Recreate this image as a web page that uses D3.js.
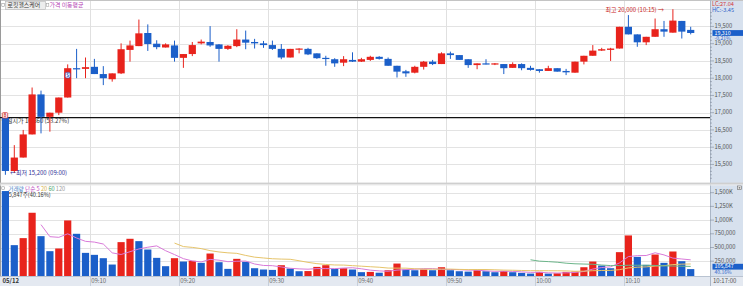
<!DOCTYPE html>
<html><head><meta charset="utf-8">
<script src="https://cdn.jsdelivr.net/npm/d3@7"></script>
<style>
html,body{margin:0;padding:0;background:#fff;overflow:hidden;}
svg{display:block;font-family:"Noto Sans CJK KR","Noto Sans",sans-serif;}
</style></head><body>
<svg id="c" width="743" height="286"></svg>
<script>
const times = ["09:00","09:01","09:02","09:03","09:04","09:05","09:06","09:07","09:08","09:09",
"09:10","09:11","09:12","09:13","09:14","09:15","09:16","09:17","09:18","09:19",
"09:20","09:21","09:22","09:23","09:24","09:25","09:26","09:27","09:28","09:29",
"09:30","09:31","09:32","09:33","09:34","09:35","09:36","09:37","09:38","09:39",
"09:40","09:41","09:42","09:43","09:44","09:45","09:46","09:47","09:48","09:49",
"09:50","09:51","09:52","09:53","09:54","09:55","09:56","09:57","09:58","09:59",
"10:00","10:01","10:02","10:03","10:04","10:05","10:06","10:07","10:08","10:09",
"10:10","10:11","10:12","10:13","10:14","10:15","10:16","10:17"];
const opens = [16860,15310,15700,16370,17530,16880,17000,17440,18290,18270,
 18330,18120,17970,18140,18820,18930,19310,19000,18890,18950,
 18590,18700,19010,19050,18980,18850,18930,19120,19050,19010,
 18960,18850,18600,18840,18850,18720,18590,18550,18450,18530,
 18480,18530,18620,18560,18360,18200,18160,18330,18480,18410,
 18720,18670,18550,18380,18430,18400,18410,18300,18410,18300,
 18260,18210,18290,18210,18160,18480,18650,18800,18820,18860,
 19490,19270,19040,19200,19420,19320,19660,19400];
const highs = [16860,16060,16500,17730,17640,17000,17440,18400,18850,18600,
 18560,18350,18140,19010,19090,19700,19560,19100,19010,19090,
 18700,19050,19120,19510,18990,18960,19420,19380,19140,19080,
 19090,18990,18850,18870,18880,18720,18650,18580,18640,18750,
 18590,18650,18640,18600,18360,18240,18360,18500,18530,18750,
 18770,18670,18550,18430,18550,18440,18410,18460,18430,18360,
 18260,18360,18290,18270,18480,18650,18960,18880,18880,19490,
 19830,19270,19200,19730,19660,20000,19660,19490];
const lows = [15200,15250,15700,16370,16400,16450,16930,17440,18000,18000,
 18120,17800,17900,18120,18480,18930,18790,18840,18890,18480,
 18300,18640,18980,18910,18480,18820,18900,18840,18860,18880,
 18820,18550,18600,18720,18670,18560,18360,18330,18350,18470,
 18470,18500,18540,18360,18020,18040,18140,18250,18380,18410,
 18560,18530,18300,18260,18400,18380,18120,18300,18230,18220,
 18160,18210,18190,18090,18160,18400,18650,18790,18500,18860,
 19270,18910,18960,19200,19200,19320,19150,19270];
const closes = [15310,15700,16370,17530,16880,17000,17440,18290,18280,18320,
 18120,18000,18140,18840,18950,19300,18990,18900,18980,18590,
 18700,18960,19060,18950,18850,18940,19120,19030,19010,18960,
 18850,18600,18850,18860,18690,18580,18560,18430,18550,18480,
 18550,18620,18560,18360,18190,18140,18330,18480,18410,18720,
 18670,18530,18380,18430,18400,18430,18290,18410,18290,18240,
 18210,18290,18190,18170,18480,18650,18800,18840,18860,19490,
 19270,19040,19200,19420,19350,19670,19350,19310];
const volumes = [1530000,543000,671000,1134000,707000,433000,482000,994000,750000,402000,
 366000,305000,189000,598000,659000,616000,463000,311000,159000,305000,
 244000,256000,220000,390000,232000,110000,293000,238000,122000,98000,
 91000,177000,116000,67000,70000,146000,177000,110000,122000,98000,
 50000,55000,40000,85000,207000,98000,85000,98000,85000,140000,
 85000,67000,60000,85000,67000,49000,73000,49000,37000,24000,
 55000,24000,30000,55000,61000,140000,244000,171000,122000,415000,
 720000,329000,183000,372000,220000,427000,250000,105847];
const priceTicks = [15500,16000,16500,17000,17500,18000,18500,19000,19500];
const priceGrid = [15500,16000,16500,17000,17500,18000,18500,19000,19500,20000];
const volumeTicks = [250000,500000,750000,1000000,1250000,1500000];
const volumeTickLabels = ["250,000","500,000","750,000","1,000K","1,250K","1,500K"];
const timeTickLabels = ["09:10","09:20","09:30","09:40","09:50","10:00","10:10"];
const maPeriods = [5,20,60];
const maColors = ["#d97ad9","#e6c46a","#6cb58a"];
const openPrice = 16860;

const RED = "#e8231c", BLUE = "#1b5fc9";
const svg = d3.select("#c");
const FS = 6.0;

const x = d3.scaleLinear().domain([0, 80]).range([1, 713]);
const y = d3.scaleLinear().domain([15000, 20000]).range([181.7, 9.2]);
const yv = d3.scaleLinear().domain([0, 1500000]).range([274.9, 192.7]);
const bw = 7.2, off = 0.8;
const PR = 710;

const data = times.map((t, i) => ({i, t, o: opens[i], h: highs[i], l: lows[i], c: closes[i], v: volumes[i]}));
const candleCol = d => d.c >= d.o ? RED : BLUE;
const volCol = d => d.i === 0 ? candleCol(d) : (d.v > volumes[d.i - 1] ? RED : BLUE);
const cx = d => x(d.i) + off + bw / 2;

// backgrounds
svg.append("rect").attr("x", 0).attr("y", 0).attr("width", 743).attr("height", 286).attr("fill", "#fff");
svg.append("rect").attr("x", PR).attr("y", 0).attr("width", 743 - PR).attr("height", 276).attr("fill", "#d7e1ee");
svg.append("rect").attr("x", 0).attr("y", 276).attr("width", 743).attr("height", 10).attr("fill", "#e4e9f1");
svg.append("line").attr("x1", 0).attr("x2", 743).attr("y1", 276.5).attr("y2", 276.5).attr("stroke", "#b9c3d1");
svg.append("line").attr("x1", 0).attr("x2", 743).attr("y1", 0.5).attr("y2", 0.5).attr("stroke", "#c4c4c4");
svg.append("line").attr("x1", 0.5).attr("x2", 0.5).attr("y1", 0).attr("y2", 276).attr("stroke", "#9a9a9a");
svg.append("line").attr("x1", PR + 0.5).attr("x2", PR + 0.5).attr("y1", 0).attr("y2", 286).attr("stroke", "#aab6c6");

// grids
const grid = svg.append("g");
grid.selectAll("line.pg").data(priceGrid).join("line")
  .attr("x1", 1).attr("x2", PR).attr("y1", d => Math.round(y(d)) + 0.5).attr("y2", d => Math.round(y(d)) + 0.5)
  .attr("stroke", "#e3e3e3");
grid.selectAll("line.vg").data(volumeTicks).join("line")
  .attr("x1", 1).attr("x2", PR).attr("y1", d => Math.round(yv(d)) + 0.5).attr("y2", d => Math.round(yv(d)) + 0.5)
  .attr("stroke", "#e3e3e3");
grid.selectAll("line.tg").data(timeTickLabels).join("line")
  .attr("x1", (d, k) => Math.round(x((k + 1) * 10)) + 0.5).attr("x2", (d, k) => Math.round(x((k + 1) * 10)) + 0.5)
  .attr("y1", 1).attr("y2", 276).attr("stroke", "#e0e0e0");
grid.selectAll("line.tt").data(timeTickLabels).join("line")
  .attr("x1", (d, k) => Math.round(x((k + 1) * 10)) + 0.5).attr("x2", (d, k) => Math.round(x((k + 1) * 10)) + 0.5)
  .attr("y1", 277).attr("y2", 286).attr("stroke", "#c6ceda");

// panel separator
svg.append("rect").attr("x", 0).attr("y", 182.6).attr("width", 743).attr("height", 2).attr("fill", "#cfcfcf");
svg.append("line").attr("x1", 0).attr("x2", 743).attr("y1", 185).attr("y2", 185).attr("stroke", "#ececec");

// open price text (partly under first candle)
svg.append("text").attr("x", 1.5).attr("y", 121.8).attr("dominant-baseline", "middle")
  .attr("font-size", FS).attr("fill", "#333").text("당일시가 16,860 (53.27%)");
// volume info text (partly under first bar)
svg.append("text").attr("x", 2.5).attr("y", 195).attr("dominant-baseline", "middle")
  .attr("font-size", 5.6).attr("fill", "#333").text("105,847주(40.16%)");

// reference open line
svg.append("line").attr("x1", 0).attr("x2", PR).attr("y1", y(openPrice)).attr("y2", y(openPrice))
  .attr("stroke", "#111").attr("stroke-width", 1.3);

// candles
const cg = svg.append("g");
cg.selectAll("line").data(data).join("line")
  .attr("x1", cx).attr("x2", cx).attr("y1", d => y(d.h)).attr("y2", d => y(d.l))
  .attr("stroke", candleCol).attr("stroke-width", 1);
cg.selectAll("rect").data(data).join("rect")
  .attr("x", d => x(d.i) + off).attr("width", bw)
  .attr("y", d => y(Math.max(d.o, d.c)))
  .attr("height", d => Math.max(1.2, Math.abs(y(d.o) - y(d.c))))
  .attr("fill", candleCol);

// volume bars
svg.append("g").selectAll("rect").data(data).join("rect")
  .attr("x", d => x(d.i) + off).attr("width", bw)
  .attr("y", d => yv(d.v)).attr("height", d => 276 - yv(d.v))
  .attr("fill", volCol);

// volume moving averages
maPeriods.forEach((p, k) => {
  const pts = data.filter(d => d.i >= p - 1).map(d => ({i: d.i, m: d3.mean(volumes.slice(d.i - p + 1, d.i + 1))}));
  svg.append("path").datum(pts)
    .attr("d", d3.line().x(d => x(d.i) + off + bw / 2).y(d => yv(d.m)))
    .attr("fill", "none").attr("stroke", maColors[k]).attr("stroke-width", 1);
});

// icons
svg.append("rect").attr("x", 2.3).attr("y", 112.6).attr("width", 5.4).attr("height", 5.4).attr("rx", 1)
  .attr("fill", "#fff").attr("stroke", "#d03a3a").attr("stroke-width", 0.8);
svg.append("text").attr("x", 5).attr("y", 115.5).attr("text-anchor", "middle").attr("dominant-baseline", "middle")
  .attr("font-size", 4.4).attr("font-weight", "bold").attr("fill", "#d03a3a").text("B");
svg.append("rect").attr("x", x(7) + off + 1.2).attr("y", 72.4).attr("width", 4.8).attr("height", 5.6).attr("rx", 1.4)
  .attr("fill", "#fff").attr("stroke", "#3355bb").attr("stroke-width", 0.7);
svg.append("text").attr("x", x(7) + off + 3.6).attr("y", 75.4).attr("text-anchor", "middle").attr("dominant-baseline", "middle")
  .attr("font-size", 4.4).attr("font-weight", "bold").attr("fill", "#3355bb").text("S");

// annotations
svg.append("text").attr("x", 10).attr("y", 173.6).attr("dominant-baseline", "middle")
  .attr("font-size", FS).attr("fill", "#2e2e96").text("←최저 15,200 (09:00)");
svg.append("text").attr("x", 605.5).attr("y", 10.8).attr("dominant-baseline", "middle")
  .attr("font-size", FS).attr("fill", "#c82424").text("최고 20,000 (10:15) →");

// legends
svg.append("rect").attr("x", 1.8).attr("y", 3.6).attr("width", 2.6).attr("height", 2.8).attr("fill", "#fff").attr("stroke", "#888").attr("stroke-width", 0.5);
svg.append("rect").attr("x", 5.5).attr("y", 1.5).attr("width", 40).attr("height", 8).attr("fill", "#ededed").attr("stroke", "#b5b5b5").attr("stroke-width", 0.6);
svg.append("text").attr("x", 7.6).attr("y", 5.7).attr("dominant-baseline", "middle").attr("font-size", 5.9).attr("fill", "#333").text("로킷헬스케어");
svg.append("rect").attr("x", 46.4).attr("y", 3.6).attr("width", 2.4).attr("height", 2.8).attr("fill", "#fff").attr("stroke", "#999").attr("stroke-width", 0.5);
svg.append("text").attr("x", 49.5).attr("y", 5.7).attr("dominant-baseline", "middle").attr("font-size", 5.9).attr("fill", "#b43fb4").text("가격 이동평균");

svg.append("rect").attr("x", 1.8).attr("y", 186.8).attr("width", 2.6).attr("height", 2.6).attr("fill", "#fff").attr("stroke", "#888").attr("stroke-width", 0.5);
const vl = svg.append("text").attr("x", 8.3).attr("y", 188.6).attr("dominant-baseline", "middle").attr("font-size", 5.6);
vl.append("tspan").attr("fill", "#3b7cc4").text("거래량 ");
vl.append("tspan").attr("fill", "#c04ac0").text("단순 5 ");
vl.append("tspan").attr("fill", "#d9b24a").text("20 ");
vl.append("tspan").attr("fill", "#4aa36c").text("60 ");
vl.append("tspan").attr("fill", "#9a9a9a").text("120");

// right price axis
const ax = svg.append("g");
ax.selectAll("line.mn").data(d3.range(15100, 20000, 100)).join("line")
  .attr("x1", PR).attr("x2", d => PR + (d % 500 === 0 ? 4 : 2)).attr("y1", d => y(d)).attr("y2", d => y(d))
  .attr("stroke", "#7f8a99").attr("stroke-width", 0.6);
ax.selectAll("text.pt").data(priceTicks).join("text")
  .attr("x", 714.5).attr("y", d => y(d)).attr("dominant-baseline", "middle")
  .attr("font-size", 5.8).attr("fill", "#555").text(d => d3.format(",")(d));
ax.selectAll("line.vt").data(volumeTicks).join("line")
  .attr("x1", PR).attr("x2", PR + 4).attr("y1", d => yv(d)).attr("y2", d => yv(d))
  .attr("stroke", "#7f8a99").attr("stroke-width", 0.6);
ax.selectAll("text.vt").data(volumeTicks).join("text")
  .attr("x", 714.5).attr("y", d => yv(d)).attr("dominant-baseline", "middle")
  .attr("font-size", 5.8).attr("fill", "#555").text((d, k) => volumeTickLabels[k]);

svg.append("text").attr("x", 712).attr("y", 4.6).attr("dominant-baseline", "middle").attr("font-size", 5.6).attr("fill", "#d23a3a").text("LC:27.04");
svg.append("text").attr("x", 712).attr("y", 10.4).attr("dominant-baseline", "middle").attr("font-size", 5.6).attr("fill", "#2f63c9").text("HC:-3.45");
const last = data[data.length - 1];
svg.append("rect").attr("x", 712.5).attr("y", y(last.c) - 2.9).attr("width", 30.5).attr("height", 5.8).attr("fill", BLUE);
svg.append("text").attr("x", 714.5).attr("y", y(last.c) + 0.2).attr("dominant-baseline", "middle").attr("font-size", 5.3).attr("fill", "#fff").text(d3.format(",")(last.c));
svg.append("text").attr("x", 714.5).attr("y", y(last.c) + 5.4).attr("dominant-baseline", "middle").attr("font-size", 5).attr("fill", "#2f63c9").text("-0.21%");
const vb = yv(last.v) - 2.4;
svg.append("rect").attr("x", 712.5).attr("y", vb - 2.9).attr("width", 30.5).attr("height", 5.8).attr("fill", BLUE);
svg.append("text").attr("x", 714.5).attr("y", vb + 0.2).attr("dominant-baseline", "middle").attr("font-size", 5.3).attr("fill", "#fff").text(d3.format(",")(last.v));
svg.append("text").attr("x", 714.5).attr("y", vb + 5.6).attr("dominant-baseline", "middle").attr("font-size", 5).attr("fill", "#2f63c9").text("40.16%");
svg.append("rect").attr("x", 737.5).attr("y", 186).attr("width", 4).attr("height", 3.6).attr("fill", "#fff").attr("stroke", "#666").attr("stroke-width", 0.6);
svg.append("rect").attr("x", 738.6).attr("y", 187.3).attr("width", 1.8).attr("height", 1.2).attr("fill", "#555");

// time axis
svg.append("text").attr("x", 2.5).attr("y", 281.6).attr("dominant-baseline", "middle").attr("font-size", FS).attr("font-weight", "bold").attr("fill", "#333").text("05/12");
svg.selectAll("text.tl").data(timeTickLabels).join("text")
  .attr("x", (d, k) => x((k + 1) * 10) + 1.2).attr("y", 281.6).attr("dominant-baseline", "middle")
  .attr("font-size", FS).attr("fill", "#6a6a6a").text(d => d);
svg.append("text").attr("x", 713).attr("y", 281.6).attr("dominant-baseline", "middle").attr("font-size", FS).attr("fill", "#555").text("10:17:00");
</script>
</body></html>
